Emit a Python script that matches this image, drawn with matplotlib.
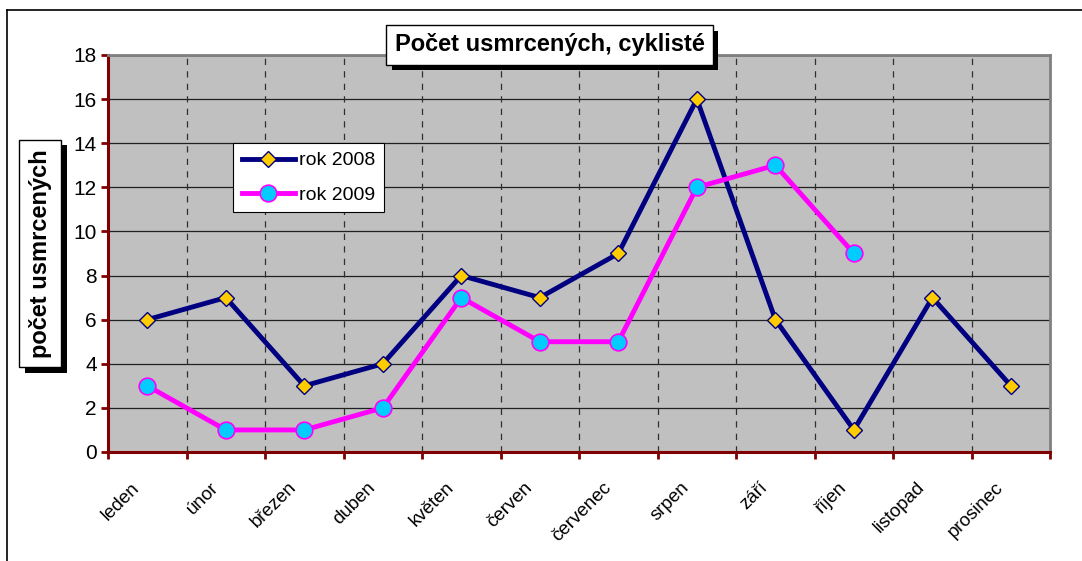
import numpy as np
import matplotlib
matplotlib.use('Agg')
import matplotlib.pyplot as plt
import matplotlib.patheffects as pe
import matplotlib.transforms as mtransforms
from matplotlib.lines import Line2D

plt.rcParams['font.family'] = ['Liberation Sans', 'DejaVu Sans']

months = ['leden', 'únor', 'březen', 'duben', 'květen', 'červen',
          'červenec', 'srpen', 'září', 'říjen', 'listopad', 'prosinec']
rok2008 = [6, 7, 3, 4, 8, 7, 9, 16, 6, 1, 7, 3]
rok2009 = [3, 1, 1, 2, 7, 5, 5, 12, 13, 9]

DARKRED = '#800000'

fig = plt.figure(figsize=(10.82, 5.61), dpi=100)
ax = fig.add_axes([0.0998, 0.1943, 0.8708, 0.7077])
ax.set_facecolor('#c0c0c0')

x = np.arange(len(months))
ax.plot(x, rok2008, color='#000080', lw=3.5, marker='D', markersize=8.5,
        markerfacecolor='#ffcc00', markeredgecolor='#000080', markeredgewidth=1,
        label='rok 2008', zorder=4)
x2 = np.arange(len(rok2009))
ax.plot(x2, rok2009, color='#ff00ff', lw=3.5, marker='o', markersize=12,
        markerfacecolor='#00ccff', markeredgecolor='#ff00ff', markeredgewidth=1.2,
        label='rok 2009', zorder=5)

ax.set_xlim(-0.5, len(months) - 0.5)
ax.set_ylim(0, 18)
ax.set_yticks(np.arange(0, 19, 2))

# category labels below the axis, rotated
ax.set_xticks(np.arange(-0.5, len(months), 1))
ax.set_xticklabels([])
ax.tick_params(axis='x', length=5, width=2, color=DARKRED, direction='out')
base = mtransforms.blended_transform_factory(ax.transData, ax.transAxes)
shift = mtransforms.ScaledTranslation(-0.10, -0.33, fig.dpi_scale_trans)
for i, m in enumerate(months):
    ax.text(i, 0, m, transform=base + shift, rotation=45, ha='right', va='center',
            rotation_mode='anchor', fontsize=13.5, clip_on=False)

ax.tick_params(axis='y', length=5, width=2, color=DARKRED, labelsize=15, pad=3)

# grid
for yv in np.arange(2, 18, 2):
    ax.axhline(yv, color='#202020', lw=0.9, zorder=1)
ax.axhline(18, color='#808080', lw=2, zorder=1)
for xv in np.arange(0.5, len(months) - 1, 1):
    ax.axvline(xv, color='#303030', lw=0.9, ls=(0, (5, 5)), zorder=1)

for s in ['left', 'bottom']:
    ax.spines[s].set_color(DARKRED)
    ax.spines[s].set_linewidth(2.2)
for s in ['top', 'right']:
    ax.spines[s].set_color('#808080')
    ax.spines[s].set_linewidth(2)

leg = ax.legend(loc='upper left', bbox_to_anchor=(0.133, 0.778), fontsize=14,
                fancybox=False, framealpha=1, edgecolor='black',
                handlelength=2.7, handletextpad=0.25, borderpad=0.45,
                labelspacing=0.85, borderaxespad=0)
leg.get_frame().set_linewidth(0.8)

shadow = [pe.SimplePatchShadow(offset=(4, -4), shadow_rgbFace='black', alpha=1), pe.Normal()]

t = fig.text(0.508, 0.92, 'Počet usmrcených, cyklisté', ha='center', va='center',
             fontsize=17, fontweight='bold',
             bbox=dict(boxstyle='square,pad=0.35', fc='white', ec='black', lw=1))
t.get_bbox_patch().set_path_effects(shadow)

yl = fig.text(0.037, 0.548, 'počet usmrcených', ha='center', va='center', rotation=90,
              fontsize=17, fontweight='bold',
              bbox=dict(boxstyle='square,pad=0.4', fc='white', ec='black', lw=1))
yl.get_bbox_patch().set_path_effects(shadow)

# outer frame (top and left visible)
fig.add_artist(Line2D([0.0065, 1.0], [0.982, 0.982], color='black', lw=1.2, transform=fig.transFigure))
fig.add_artist(Line2D([0.0065, 0.0065], [0.0, 0.982], color='black', lw=1.2, transform=fig.transFigure))

fig.savefig('out.png', dpi=100)
